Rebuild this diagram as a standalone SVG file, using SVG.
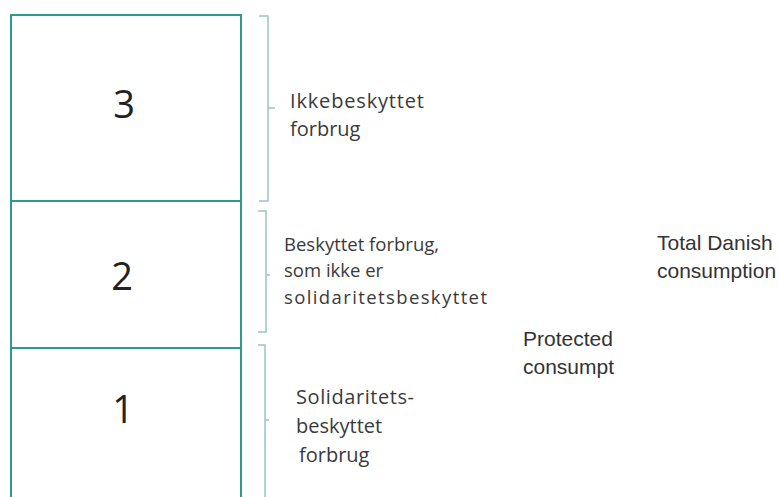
<svg xmlns="http://www.w3.org/2000/svg" width="779" height="497" viewBox="0 0 779 497">
<style>
.box{fill:#fff;stroke:#2e9a8f;stroke-width:2}
.br{fill:none;stroke:#9cc3c4;stroke-width:1.5}
.num{font-family:"Open Sans","DejaVu Sans",sans-serif;font-size:38px;fill:#222;text-anchor:middle}
.lbl{font-family:"Open Sans","DejaVu Sans",sans-serif;font-size:18.5px;fill:#3a3a3a}
.en{font-family:"Liberation Sans",Arial,sans-serif;font-size:21px;fill:#333}
</style>
<rect width="779" height="497" fill="#fff"/>
<g id="layer3"><rect class="box" x="11" y="15" width="230" height="186"/><text class="num" x="124" y="118">3</text></g>
<g id="layer2"><rect class="box" x="11" y="201" width="230" height="147"/><text class="num" x="122" y="290">2</text></g>
<g id="layer1"><rect class="box" x="11" y="348" width="230" height="160"/><text class="num" x="123" y="423">1</text></g>
<g id="connectors">
<path class="br" d="M259,16 H268 V201 H259 M268,108 H275"/>
<path class="br" d="M258,211 H266 V332 H258 M266,275 H270"/>
<path class="br" d="M258,345 H265 V497 M265,420 H269"/>
</g>
<g id="label3" style="font-size:20px"><text class="lbl" x="290" y="108" style="font-size:20px" textLength="134">Ikkebeskyttet</text><text class="lbl" x="290" y="136" style="font-size:20px">forbrug</text></g>
<g id="label2"><text class="lbl" x="284" y="251">Beskyttet forbrug,</text><text class="lbl" x="284" y="277">som ikke er</text><text class="lbl" x="284" y="304" textLength="203">solidaritetsbeskyttet</text></g>
<g id="label1"><text class="lbl" x="296" y="404" style="font-size:20px" textLength="118">Solidaritets-</text><text class="lbl" x="296" y="433" style="font-size:20px">beskyttet</text><text class="lbl" x="299" y="462" style="font-size:20px">forbrug</text></g>
<g id="total"><text class="en" x="657" y="250">Total Danish</text><text class="en" x="657" y="278">consumption</text></g>
<g id="protected"><text class="en" x="523" y="346">Protected</text><text class="en" x="523" y="374">consumpt</text></g>
</svg>
